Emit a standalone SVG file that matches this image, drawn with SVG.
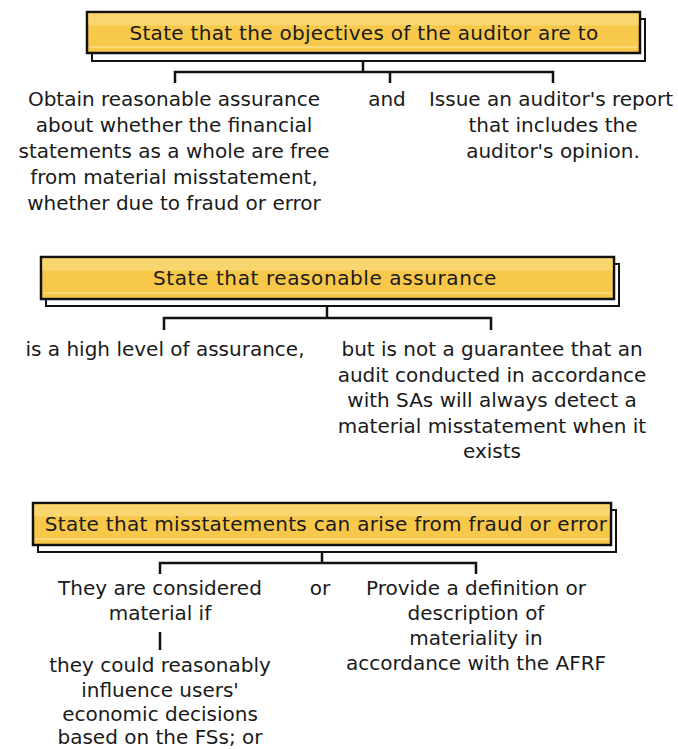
<svg xmlns="http://www.w3.org/2000/svg" width="678" height="749" viewBox="0 0 678 749">
<style>
.shadow{fill:#ffffff;stroke:#111;stroke-width:2}
.box{fill:#F7C84A;stroke:#111;stroke-width:2.5}
.hl{fill:#FAD670}
.gl{stroke:#FDE9B0;stroke-width:1.2}
.title{font-family:"DejaVu Sans","Liberation Sans",sans-serif;font-size:20px;letter-spacing:0.3px;fill:#1a1a1a;text-anchor:middle}
.t{font-family:"DejaVu Sans","Liberation Sans",sans-serif;font-size:20px;fill:#1a1a1a;text-anchor:middle}
.c{fill:none;stroke:#111;stroke-width:2.5;stroke-linejoin:miter}
</style>
<rect width="678" height="749" fill="#ffffff"/>

<g id="box1">
<rect class="shadow" x="92" y="19" width="553" height="42"/>
<rect class="box" x="87" y="12" width="553" height="41"/>
<rect class="hl" x="88.5" y="13.5" width="550" height="12"/>
<line class="gl" x1="89" y1="47" x2="638" y2="47"/>
<text class="title" x="364" y="40">State that the objectives of the auditor are to</text>
</g>

<g id="n1a">
<text class="t" x="174" y="106">Obtain reasonable assurance</text>
<text class="t" x="174" y="132">about whether the financial</text>
<text class="t" x="174" y="158">statements as a whole are free</text>
<text class="t" x="174" y="184">from material misstatement,</text>
<text class="t" x="174" y="210">whether due to fraud or error</text>
</g>
<g id="and1"><text class="t" x="387" y="106">and</text></g>
<g id="n1b">
<text class="t" x="551" y="106">Issue an auditor's report</text>
<text class="t" x="553" y="132">that includes the</text>
<text class="t" x="553" y="158">auditor's opinion.</text>
</g>

<g id="box2">
<rect class="shadow" x="46" y="264" width="573" height="42"/>
<rect class="box" x="41" y="257" width="573" height="42"/>
<rect class="hl" x="42.5" y="258.5" width="570" height="12"/>
<line class="gl" x1="43" y1="293" x2="612" y2="293"/>
<text class="title" x="325" y="285" style="letter-spacing:0.6px">State that reasonable assurance</text>
</g>

<g id="n2a"><text class="t" x="165" y="356">is a high level of assurance,</text></g>
<g id="n2b">
<text class="t" x="492" y="356">but is not a guarantee that an</text>
<text class="t" x="492" y="382">audit conducted in accordance</text>
<text class="t" x="492" y="407">with SAs will always detect a</text>
<text class="t" x="492" y="433">material misstatement when it</text>
<text class="t" x="492" y="458">exists</text>
</g>

<g id="box3">
<rect class="shadow" x="38" y="510" width="578" height="42"/>
<rect class="box" x="33" y="503" width="578" height="42"/>
<rect class="hl" x="34.5" y="504.5" width="575" height="12"/>
<line class="gl" x1="35" y1="539" x2="609" y2="539"/>
<text class="title" x="326" y="531">State that misstatements can arise from fraud or error</text>
</g>

<g id="n3a">
<text class="t" x="160" y="595">They are considered</text>
<text class="t" x="160" y="620">material if</text>
</g>
<g id="n3a2">
<text class="t" x="160" y="672">they could reasonably</text>
<text class="t" x="160" y="697">influence users'</text>
<text class="t" x="160" y="721">economic decisions</text>
<text class="t" x="160" y="744">based on the FSs; or</text>
</g>
<g id="or3"><text class="t" x="320" y="595">or</text></g>
<g id="n3b">
<text class="t" x="476" y="595">Provide a definition or</text>
<text class="t" x="476" y="620">description of</text>
<text class="t" x="476" y="645">materiality in</text>
<text class="t" x="476" y="670">accordance with the AFRF</text>
</g>

<g id="connectors">
<path class="c" d="M363 61 V72 M175 83 V72 H553 V83 M390 72 V83"/>
<path class="c" d="M327 306 V318 M164 330 V318 H491 V330"/>
<path class="c" d="M322 552 V563 M160 574 V563 H476 V574 M160 632 V650"/>
</g>
</svg>
